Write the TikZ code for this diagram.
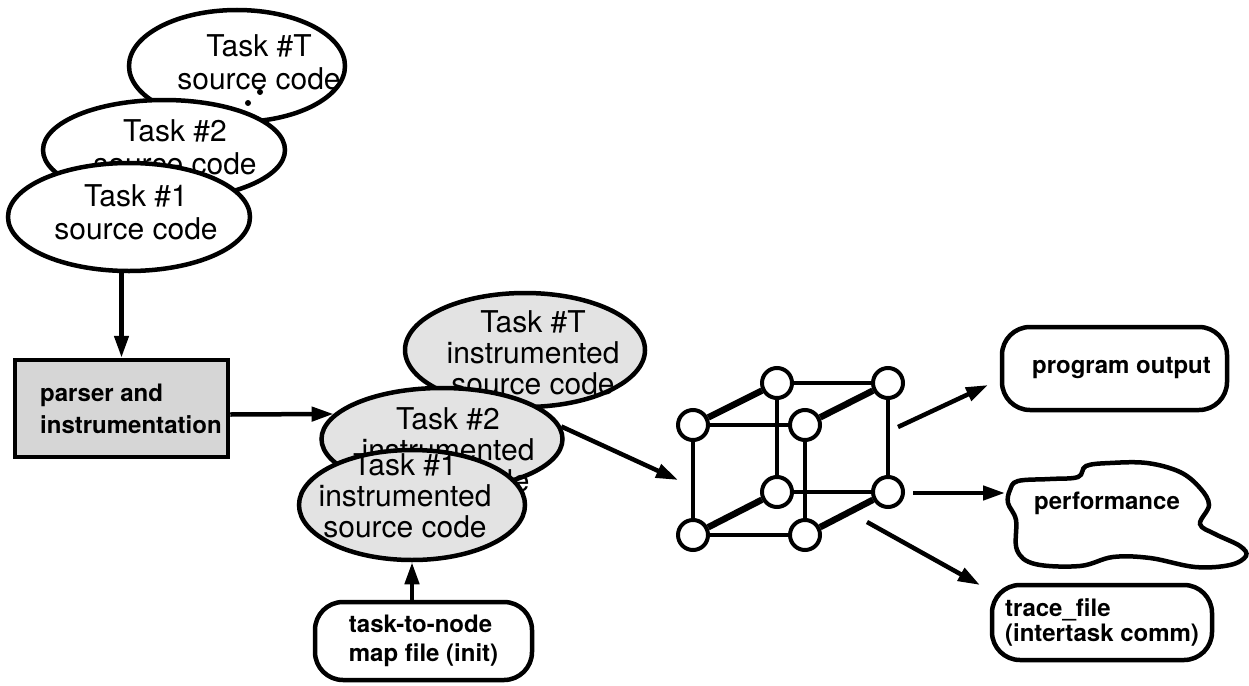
\documentclass[tikz,border=0pt]{standalone}
\usepackage{fontspec}
\setmainfont{TeX Gyre Heros}
\usetikzlibrary{arrows.meta,shapes.geometric}

\tikzset{
  srcshape/.style={ellipse, draw, line width=4.5pt, fill=white, inner sep=0pt},
  instshape/.style={ellipse, draw, line width=4.5pt, fill=gray!22, inner sep=0pt},
  srctext/.style={font=\fontsize{30}{33}\selectfont, align=center, inner sep=0pt},
  insttext/.style={font=\fontsize{30}{31}\selectfont, align=center, inner sep=0pt},
  boldtext/.style={font=\bfseries\fontsize{24}{29}\selectfont, align=left, inner sep=0pt},
  roundbox/.style={draw, line width=4.5pt, rounded corners=28pt, fill=white, inner sep=0pt,
                   font=\bfseries\fontsize{24}{29}\selectfont, align=left},
  conn/.style={line width=4.5pt, -{Triangle[length=22pt,width=14pt]}},
  vertex/.style={circle, draw, line width=4pt, fill=white, minimum size=30pt, inner sep=0pt},
  cubeedge/.style={line width=4pt},
  cubediag/.style={line width=6.5pt},
}

\begin{document}
\begin{tikzpicture}[x=1pt,y=-1pt]
\useasboundingbox (0,0) rectangle (1249,685);

% source code ellipses, back to front
\node[srcshape, minimum width=216pt, minimum height=112pt] (srcT) at (237,66) {};
\node[srctext] (srcTt) at (259,62) {Task \#T\\source code};
\fill (260,92) circle (3);
\fill (248,103) circle (3);
\node[srcshape, minimum width=242pt, minimum height=100pt] (src2) at (164,150) {};
\node[srctext] (src2t) at (175,147) {Task \#2\\source code};
\node[srcshape, minimum width=242pt, minimum height=108pt] (src1) at (129,217) {};
\node[srctext] (src1t) at (136,212) {Task \#1\\source code};

% parser box
\node[draw, line width=4.5pt, fill=gray!32, minimum width=213pt, minimum height=97pt, inner sep=0pt]
  (parser) at (121.5,408.5) {};
\node[boldtext, anchor=west, font=\bfseries\fontsize{24}{32}\selectfont] (parsert) at (40,409)
  {parser and\\instrumentation};

% instrumented source ellipses, back to front
\node[instshape, minimum width=240pt, minimum height=114pt] (iT) at (525,350) {};
\node[insttext] (iTt) at (533,353) {Task \#T\\instrumented\\source code};
\node[instshape, minimum width=241pt, minimum height=102pt] (i2) at (442,439) {};
\node[insttext] (i2t) at (448,450) {Task \#2\\instrumented\\source code};
\node[instshape, minimum width=226pt, minimum height=110pt] (i1) at (412,505) {};
\node[insttext] (i1t) at (405,496) {Task \#1\\instrumented\\source code};

% mapping file
\node[roundbox, minimum width=217pt, minimum height=78pt] (map) at (423.5,641)
  {task-to-node\\map file (init)};

% hypercube of processing nodes
\node[vertex] (A) at (693,425) {};
\node[vertex] (B) at (777,383) {};
\node[vertex] (C) at (888,383) {};
\node[vertex] (D) at (805,425) {};
\node[vertex] (E) at (777,492) {};
\node[vertex] (F) at (888,492) {};
\node[vertex] (G) at (693,535) {};
\node[vertex] (H) at (805,535) {};
\draw[cubeedge] (B) -- (C);
\draw[cubeedge] (A) -- (D);
\draw[cubeedge] (E) -- (F);
\draw[cubeedge] (G) -- (H);
\draw[cubeedge] (A) -- (G);
\draw[cubeedge] (B) -- (E);
\draw[cubeedge] (D) -- (H);
\draw[cubeedge] (C) -- (F);
\draw[cubediag] (A) -- (B);
\draw[cubediag] (D) -- (C);
\draw[cubediag] (G) -- (E);
\draw[cubediag] (H) -- (F);

% outputs
\node[roundbox, minimum width=225pt, minimum height=83pt] (prog) at (1114.5,368.5)
  {\hspace*{14pt}program output};
\draw[line width=4.5pt, fill=white] plot[smooth cycle, tension=0.6] coordinates {
  (1010,490) (1018,481) (1050,479) (1078,477) (1086,466) (1110,463) (1147,463)
  (1180,472) (1200,488) (1209,505) (1200,524) (1215,534) (1240,546) (1246,556)
  (1230,565) (1195,567) (1150,558) (1113,557) (1080,566) (1035,564) (1017,550)
  (1016,520) (1008,503)};
\node[boldtext] (perf) at (1107,503) {performance};
\node[roundbox, minimum width=220pt, minimum height=75pt, font=\bfseries\fontsize{24}{25}\selectfont]
  (trace) at (1102,622.5) {trace\_file\\(intertask comm)};

% connector ends near the cube and the outputs
\coordinate (cubein) at (678,480);
\coordinate (out1) at (898,427);
\coordinate (out2) at (913,493);
\coordinate (out3) at (867,522);
\coordinate (progin) at (988,385);
\coordinate (perfin) at (1005,493);
\coordinate (tracein) at (980,585);

% connectors
\draw[conn] (src1.south -| parser.north) -- (parser.north);
\draw[conn] ([yshift=-6pt]parser.east) -- (i2.167);
\draw[conn] (i2.6) -- (cubein);
\draw[conn] (i1.south |- map.north) -- (i1.south);
\draw[conn] (out1) -- (progin);
\draw[conn] (out2) -- (perfin);
\draw[conn] (out3) -- (tracein);
\end{tikzpicture}
\end{document}
